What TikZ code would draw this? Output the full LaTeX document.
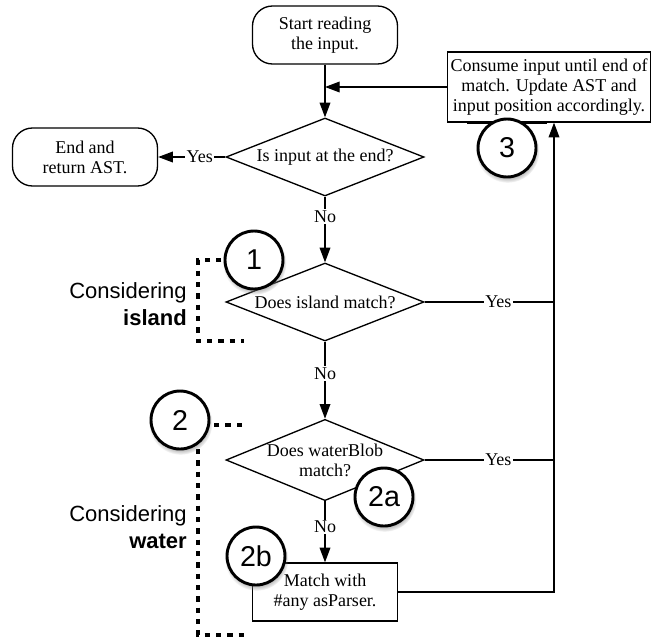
\documentclass[tikz,border=0pt]{standalone}
\usepackage{fontspec}
\setmainfont{Liberation Serif}
\setsansfont{Liberation Sans}
\usetikzlibrary{arrows.meta,shapes.geometric,shadows}
\tikzset{t/.style={font=\fontsize{13.5}{15}\selectfont,align=center,inner sep=0pt},
term/.style={t,draw,line width=1pt,rounded corners=15pt,minimum width=108.75pt,minimum height=43.5pt},
act/.style={t,draw,line width=1pt,minimum width=108.75pt,minimum height=43.5pt},
dec/.style={t,draw,line width=1pt,diamond,shape aspect=2.4,minimum width=148.5pt,minimum height=58.5pt},
num/.style={circle,draw,fill=white,line width=2.2pt,minimum size=43.5pt,inner sep=0pt,font=\sffamily\fontsize{21.5}{21.5}\selectfont,circular drop shadow={shadow xshift=.4pt,shadow yshift=-2pt,opacity=.5}},
lbl/.style={fill=white,inner sep=1pt,font=\fontsize{13.5}{15}\selectfont},
ln/.style={line width=1pt},arr/.style={ln,-{Triangle[length=11pt,width=8pt]}},
brk/.style={line width=2.5pt,dash pattern=on 4pt off 4.5pt},
side/.style={font=\sffamily\fontsize{16.5}{20}\selectfont,align=right,anchor=east,inner sep=0pt}}

\begin{document}
\begin{tikzpicture}[x=.75pt,y=-.75pt]
\useasboundingbox(0,0)rectangle(656,639);
\node[term](start)at(325,35){Start reading\\the input.};
\node[act,minimum width=152.25pt,minimum height=52.5pt](upd)at(549,87){Consume input until end of\\match. Update AST and\\input position accordingly.};
\node[dec](atend)at(325,157){Is input at the end?};\node[term](fin)at(85,157){End and\\return AST.};
\node[dec](isl)at(325,302){Does island match?};
\node[dec](wat)at(325,460){Does waterBlob\\match?};
\node[act](any)at(325,592){Match with\\\#any asParser.};
\coordinate(back)at([xshift=3.75pt]upd.south);
\draw[arr](start)--(atend);\draw[arr](upd.west)--(upd.west-|start.south);
\draw[arr](atend)--node[lbl,pos=.38]{Yes}(fin);
\draw[arr](atend)--node[lbl,pos=.3]{No}(isl);
\draw[arr](isl)--node[lbl,pos=.41]{No}(wat);
\draw[arr](wat)--node[lbl,pos=.42]{No}(any);
\draw[ln](isl.east)--node[lbl,pos=.57]{Yes}(isl.east-|back);
\draw[ln](wat.east)--node[lbl,pos=.57]{Yes}(wat.east-|back);
\draw[arr](any.east)-|(back);
% side notes
\node[side](ti)at(187,304){Considering\\\textbf{island}};
\node[side](tw)at(187,527){Considering\\\textbf{water}};
\draw[brk](244,260)--(198,260)--(198,341)--(244,341);
\draw[brk](242,425)--(198,425)--(198,635)--(245,635);
\draw[line width=2pt]([xshift=-30pt]upd.south-|507,0)--([xshift=30pt]upd.south-|507,0);
\node[num](n1)at(254,260){1};\node[num](n2)at(180,420){2};
\node[num](n2a)at(384,497){2a};\node[num](n2b)at(256,556){2b};
\node[num](n3)at(507,148){3};
\end{tikzpicture}
\end{document}
